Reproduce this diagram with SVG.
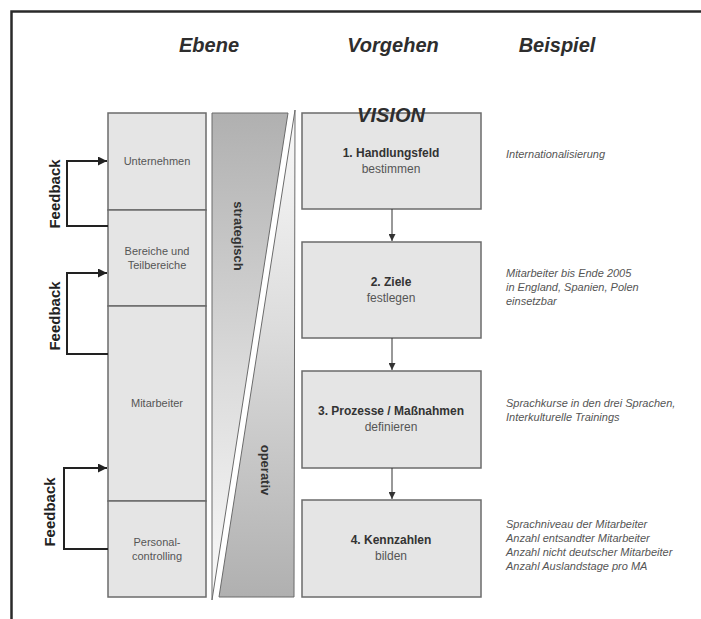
<svg xmlns="http://www.w3.org/2000/svg" width="701" height="619" viewBox="0 0 701 619">
<style>
.box{fill:#e5e5e5;stroke:#6b6b6b;stroke-width:1.5}
.head{font-family:"Liberation Sans",Arial,sans-serif;font-size:20px;font-weight:bold;font-style:italic;fill:#2e2e2e;text-anchor:middle}
.lvl{font-family:"Liberation Sans",Arial,sans-serif;font-size:11px;fill:#555;text-anchor:middle}
.stepb{font-family:"Liberation Sans",Arial,sans-serif;font-size:12px;font-weight:bold;fill:#333;text-anchor:middle}
.step{font-family:"Liberation Sans",Arial,sans-serif;font-size:12px;fill:#555;text-anchor:middle}
.ex{font-family:"Liberation Sans",Arial,sans-serif;font-size:11px;font-style:italic;fill:#555}
.fb{font-family:"Liberation Sans",Arial,sans-serif;font-size:15px;font-weight:bold;fill:#222;text-anchor:middle}
.strip{font-family:"Liberation Sans",Arial,sans-serif;font-size:13px;font-weight:bold;fill:#333;text-anchor:middle}
.fbl{fill:none;stroke:#222;stroke-width:2}
.cn{fill:none;stroke:#333;stroke-width:1}
</style>
<defs>
<marker id="ah" viewBox="0 0 10 10" refX="10" refY="5" markerWidth="12" markerHeight="9" markerUnits="userSpaceOnUse" orient="auto"><path d="M0,0 L10,5 L0,10 z" fill="#222"/></marker>
<marker id="as" viewBox="0 0 10 10" refX="10" refY="5" markerWidth="7" markerHeight="7" markerUnits="userSpaceOnUse" orient="auto"><path d="M0,0 L10,5 L0,10 z" fill="#333"/></marker>
<linearGradient id="gA" x1="0" y1="0" x2="0" y2="1"><stop offset="0" stop-color="#b0b0b0"/><stop offset="0.55" stop-color="#dcdcdc"/><stop offset="1" stop-color="#fafafa"/></linearGradient>
<linearGradient id="gB" x1="0" y1="0" x2="0" y2="1"><stop offset="0" stop-color="#fafafa"/><stop offset="0.45" stop-color="#dcdcdc"/><stop offset="1" stop-color="#b0b0b0"/></linearGradient>
</defs>
<rect width="701" height="619" fill="#fff"/>
<path d="M11.5,619 V11.5 H701" fill="none" stroke="#2a2a2a" stroke-width="2.5"/>
<g id="headers">
<text class="head" x="209" y="52">Ebene</text>
<text class="head" x="393" y="52">Vorgehen</text>
<text class="head" x="557" y="52">Beispiel</text>
</g>
<g id="ebene">
<g id="n-unternehmen"><rect class="box" x="108" y="113" width="98" height="97"/><text class="lvl" x="157" y="165">Unternehmen</text></g>
<g id="n-bereiche"><rect class="box" x="108" y="210" width="98" height="96"/><text class="lvl" x="157" y="255">Bereiche und</text><text class="lvl" x="157" y="269">Teilbereiche</text></g>
<g id="n-mitarbeiter"><rect class="box" x="108" y="306" width="98" height="195"/><text class="lvl" x="157" y="407">Mitarbeiter</text></g>
<g id="n-personal"><rect class="box" x="108" y="501" width="98" height="96"/><text class="lvl" x="157" y="546">Personal-</text><text class="lvl" x="157" y="560">controlling</text></g>
</g>
<g id="strip">
<g id="n-strategisch"><polygon points="212,113 288,113 212,600" fill="url(#gA)" stroke="#6b6b6b" stroke-width="1"/><text class="strip" transform="translate(234,236) rotate(90)">strategisch</text></g>
<g id="n-operativ"><polygon points="295,110 294,597 219,597" fill="url(#gB)" stroke="#6b6b6b" stroke-width="1"/><text class="strip" transform="translate(261,470) rotate(90)">operativ</text></g>
</g>
<g id="vorgehen">
<g id="n-step1"><rect class="box" x="302" y="113" width="179" height="96"/><text class="stepb" x="391" y="157">1. Handlungsfeld</text><text class="step" x="391" y="173">bestimmen</text></g>
<g id="n-step2"><rect class="box" x="302" y="242" width="179" height="96"/><text class="stepb" x="391" y="286">2. Ziele</text><text class="step" x="391" y="302">festlegen</text></g>
<g id="n-step3"><rect class="box" x="302" y="371" width="179" height="97"/><text class="stepb" x="391" y="415">3. Prozesse / Maßnahmen</text><text class="step" x="391" y="431">definieren</text></g>
<g id="n-step4"><rect class="box" x="302" y="500" width="179" height="97"/><text class="stepb" x="391" y="544">4. Kennzahlen</text><text class="step" x="391" y="560">bilden</text></g>
<g id="n-vision"><text class="head" x="391" y="122">VISION</text></g>
</g>
<g id="beispiel">
<g id="ex1"><text class="ex" x="506" y="158">Internationalisierung</text></g>
<g id="ex2"><text class="ex" x="506" y="277">Mitarbeiter bis Ende 2005</text><text class="ex" x="506" y="291">in England, Spanien, Polen</text><text class="ex" x="506" y="305">einsetzbar</text></g>
<g id="ex3"><text class="ex" x="506" y="407">Sprachkurse in den drei Sprachen,</text><text class="ex" x="506" y="421">Interkulturelle Trainings</text></g>
<g id="ex4"><text class="ex" x="506" y="528">Sprachniveau der Mitarbeiter</text><text class="ex" x="506" y="542">Anzahl entsandter Mitarbeiter</text><text class="ex" x="506" y="556">Anzahl nicht deutscher Mitarbeiter</text><text class="ex" x="506" y="570">Anzahl Auslandstage pro MA</text></g>
</g>
<g id="feedback">
<text class="fb" transform="translate(60,194) rotate(-90)">Feedback</text>
<text class="fb" transform="translate(60,316) rotate(-90)">Feedback</text>
<text class="fb" transform="translate(55,512) rotate(-90)">Feedback</text>
</g>
<g id="connectors">
<path class="fbl" d="M108,226 H67 V161 H107" marker-end="url(#ah)"/>
<path class="fbl" d="M108,354 H67 V273 H107" marker-end="url(#ah)"/>
<path class="fbl" d="M108,549 H64 V468 H107" marker-end="url(#ah)"/>
<path class="cn" d="M392,209 V241" marker-end="url(#as)"/>
<path class="cn" d="M392,338 V370" marker-end="url(#as)"/>
<path class="cn" d="M392,468 V499" marker-end="url(#as)"/>
</g>
</svg>
